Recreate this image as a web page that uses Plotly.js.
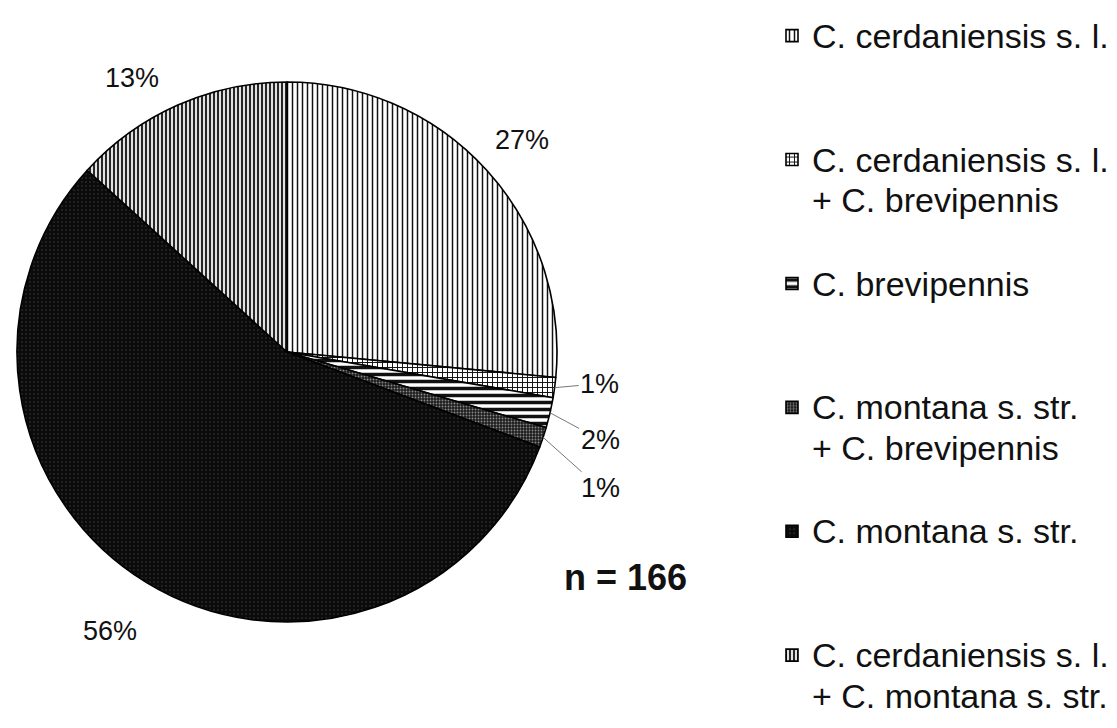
<!DOCTYPE html>
<html>
<head>
<meta charset="utf-8">
<script src="https://cdn.plot.ly/plotly-3.0.1.min.js"></script>
<style>html,body{margin:0;padding:0;background:#fff;}#chart{width:1117px;height:728px;}</style>
</head>
<body>
<div id="chart"></div>
<script>
// ---- data ----
const categoryLines = [
  ["C. cerdaniensis s. l."],
  ["C. cerdaniensis s. l.", "+ C. brevipennis"],
  ["C. brevipennis"],
  ["C. montana s. str.", "+ C. brevipennis"],
  ["C. montana s. str."],
  ["C. cerdaniensis s. l.", "+ C. montana s. str."]
];
const counts = [44, 2, 3, 2, 93, 22];

// ---- styling ----
const patShapes  = ["|", "+", "-", ".", ".", "|"];
const patFg      = ["#111", "#111", "#111", "#888", "#4a4a4a", "#111"];
const patBg      = ["#ffffff", "#ffffff", "#ffffff", "#1c1c1c", "#0b0b0b", "#e2e2e2"];
const patSize    = [5, 5, 7, 3, 4, 4];
const patSolid   = [0.3, 0.35, 0.5, 0.3, 0.08, 0.45];
const padLines   = [2, 1, 2, 1, 2, 0];
// label placement relative to the slice's outer edge midpoint (pixels)
const labelDx    = [35, 45, 50, 57, -36, -46];
const labelDy    = [-30, -4, 27, 51, 49, -27];
const labelArrow = [false, true, true, true, false, false];

const legendLabels = categoryLines.map((lines, i) => {
  const txt = lines.map(l => '<span style="font-size:34px">' + l + '</span>');
  for (let k = 0; k < padLines[i]; k++) txt.push(' ');
  return txt.join('<br>');
});
const total = counts.reduce((a, b) => a + b, 0);

const W = 1117, H = 728;
const cx = 287, cy = 352, R = 270;

const trace = {
  type: 'pie',
  labels: legendLabels,
  values: counts,
  sort: false,
  direction: 'clockwise',
  rotation: 0,
  textinfo: 'none',
  hoverinfo: 'label+value+percent',
  marker: {
    colors: patBg,
    line: {color: '#000', width: 1.6},
    pattern: {
      shape: patShapes,
      fgcolor: patFg,
      bgcolor: patBg,
      size: patSize,
      solidity: patSolid,
      fillmode: 'replace'
    }
  },
  domain: {x: [(cx - R) / W, (cx + R) / W], y: [1 - (cy + R) / H, 1 - (cy - R) / H]},
  showlegend: true
};

// percentage labels at each slice's mid-angle (clockwise from 12 o'clock)
const annotations = [];
let cum = 0;
counts.forEach((v, i) => {
  const mid = (cum + v / 2) / total * 2 * Math.PI;
  cum += v;
  const ex = cx + R * Math.sin(mid);
  const ey = cy - R * Math.cos(mid);
  const txt = Math.round(v / total * 100) + '%';
  const base = {
    text: txt, xref: 'paper', yref: 'paper',
    x: ex / W, y: 1 - ey / H,
    font: {size: 27, color: '#111', family: 'Liberation Sans, Arial, sans-serif'}
  };
  if (labelArrow[i]) {
    Object.assign(base, {showarrow: true, arrowhead: 0, arrowwidth: 1, arrowcolor: '#777',
      ax: labelDx[i], ay: labelDy[i], standoff: 0, startstandoff: 0});
  } else {
    Object.assign(base, {showarrow: false, xanchor: 'center', yanchor: 'middle',
      xshift: labelDx[i], yshift: -labelDy[i]});
  }
  annotations.push(base);
});
annotations.push({
  text: '<b>n = ' + total + '</b>',
  xref: 'paper', yref: 'paper',
  x: 625 / W, y: 1 - 577 / H,
  xanchor: 'center', yanchor: 'middle',
  showarrow: false,
  font: {size: 36, color: '#111', family: 'Liberation Sans, Arial, sans-serif'}
});

const layout = {
  width: W, height: H,
  margin: {l: 0, r: 0, t: 0, b: 0},
  paper_bgcolor: '#fff',
  font: {family: 'Liberation Sans, Arial, sans-serif', color: '#111'},
  showlegend: true,
  legend: {
    x: 772 / W, xanchor: 'left',
    y: 1 - 9 / H, yanchor: 'top',
    valign: 'top',
    font: {size: 31, color: '#111'},
    bgcolor: 'rgba(0,0,0,0)',
    traceorder: 'normal'
  },
  annotations: annotations
};

Plotly.newPlot('chart', [trace], layout, {staticPlot: true, displayModeBar: false});
</script>
</body>
</html>
